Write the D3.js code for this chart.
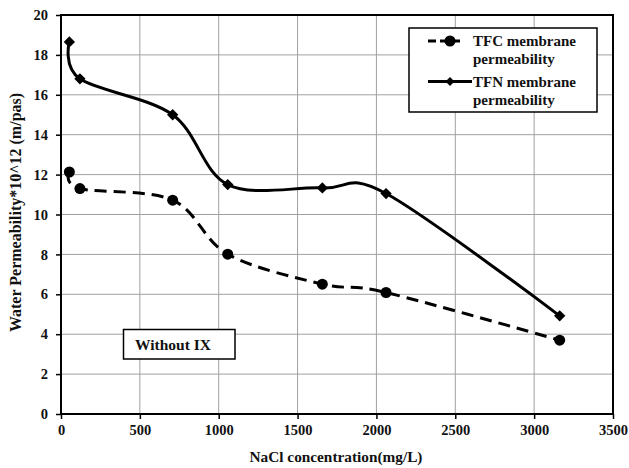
<!DOCTYPE html>
<meta charset="utf-8">
<head>
<style>
body { margin: 0; background: #fff; }
svg text { font-family: "Liberation Serif", "Times New Roman", Times, "DejaVu Serif", serif !important; font-weight: bold; fill: #111; }
.grid line { stroke: #a0a0a0; stroke-width: 1px; }
</style>
<script src="https://d3js.org/d3.v7.min.js"></script>
</head>
<body>
<svg width="629" height="468"></svg>
<script>

// NaCl concentration (mg/L)
var conc = [53, 120, 708, 1057, 1657, 2061, 3162];
var tfc = [12.13, 11.3, 10.72, 8.01, 6.51, 6.09, 3.7];
var tfn = [18.65, 16.8, 15.0, 11.5, 11.33, 11.05, 4.92];
var xTicks = [0, 500, 1000, 1500, 2000, 2500, 3000, 3500];
var yTicks = [0, 2, 4, 6, 8, 10, 12, 14, 16, 18, 20];

var svg = d3.select("svg");
var margin = {left: 61, right: 16, top: 15, bottom: 54};
var width = 629, height = 468;

var x = d3.scaleLinear().domain([0, 3500]).range([margin.left, width - margin.right]);
var y = d3.scaleLinear().domain([0, 20]).range([height - margin.bottom, margin.top]);

// grid
var grid = svg.append("g").attr("class", "grid");
grid.selectAll(".vx").data(xTicks).enter().append("line")
    .attr("x1", d => x(d)).attr("x2", d => x(d))
    .attr("y1", y(0)).attr("y2", y(20));
grid.selectAll(".hy").data(yTicks).enter().append("line")
    .attr("x1", x(0)).attr("x2", x(3500))
    .attr("y1", d => y(d)).attr("y2", d => y(d));

// axes
var xAxis = svg.append("g")
    .attr("transform", "translate(0," + y(0) + ")")
    .call(d3.axisBottom(x).tickValues(xTicks).tickFormat(d3.format("d")).tickSize(5).tickPadding(6));
var yAxis = svg.append("g")
    .attr("transform", "translate(" + x(0) + ",0)")
    .call(d3.axisLeft(y).tickValues(yTicks).tickSize(5).tickPadding(8));
[xAxis, yAxis].forEach(function(a) {
  a.attr("font-family", null);
  a.select(".domain").remove();
  a.selectAll("line").attr("stroke", "#000").attr("stroke-width", 1.5);
  a.selectAll("text").attr("font-size", 14.5).attr("fill", "#111");
});

// frame
svg.append("rect")
    .attr("x", x(0)).attr("y", y(20))
    .attr("width", x(3500) - x(0)).attr("height", y(0) - y(20))
    .attr("fill", "none").attr("stroke", "#000").attr("stroke-width", 2);

var line = d3.line().curve(d3.curveCardinal.tension(0));

function pts(vals) { return conc.map((c, i) => [x(c), y(vals[i])]); }

svg.append("path")
    .attr("d", line(pts(tfc)))
    .attr("fill", "none").attr("stroke", "#000").attr("stroke-width", 3)
    .attr("stroke-dasharray", "12,7");

svg.append("path")
    .attr("d", line(pts(tfn)))
    .attr("fill", "none").attr("stroke", "#000").attr("stroke-width", 3);

svg.selectAll(".dot").data(pts(tfc)).enter().append("circle")
    .attr("cx", d => d[0]).attr("cy", d => d[1]).attr("r", 5.5).attr("fill", "#000");

// square turned 45deg gives the Excel-style diamond
var diamond = d3.symbol().type(d3.symbolSquare).size(64);
svg.selectAll(".dia").data(pts(tfn)).enter().append("path")
    .attr("d", diamond)
    .attr("transform", d => "translate(" + d[0] + "," + d[1] + ") rotate(45)")
    .attr("fill", "#000");

// legend
var lg = svg.append("g");
lg.append("rect").attr("x", 409).attr("y", 28).attr("width", 188).attr("height", 84)
    .attr("fill", "#fff").attr("stroke", "#000").attr("stroke-width", 1.5);
lg.append("line").attr("x1", 428).attr("x2", 464).attr("y1", 41).attr("y2", 41)
    .attr("stroke", "#000").attr("stroke-width", 3).attr("stroke-dasharray", "8,4");
lg.append("circle").attr("cx", 450).attr("cy", 41).attr("r", 5.5).attr("fill", "#000");
lg.append("line").attr("x1", 428).attr("x2", 472).attr("y1", 81.5).attr("y2", 81.5)
    .attr("stroke", "#000").attr("stroke-width", 3);
lg.append("path").attr("d", d3.symbol().type(d3.symbolSquare).size(40))
    .attr("transform", "translate(450,81.5) rotate(45)").attr("fill", "#000");
var legText = [["TFC membrane", 46], ["permeability", 64], ["TFN membrane", 87], ["permeability", 105]];
lg.selectAll("text").data(legText).enter().append("text")
    .attr("x", 473).attr("y", d => d[1]).attr("font-size", 15).text(d => d[0]);

// annotation
svg.append("rect").attr("x", 123.5).attr("y", 329.5).attr("width", 111.5).attr("height", 29.5)
    .attr("fill", "#fff").attr("stroke", "#000").attr("stroke-width", 1.5);
svg.append("text").attr("x", 135).attr("y", 349.5).attr("font-size", 15.5).text("Without IX");

// axis titles
svg.append("text").attr("x", 336).attr("y", 462).attr("text-anchor", "middle")
    .attr("font-size", 15.3).text("NaCl concentration(mg/L)");
svg.append("text").attr("transform", "translate(21," + 212.5 + ") rotate(-90)")
    .attr("text-anchor", "middle").attr("font-size", 16)
    .text("Water Permeability*10^12 (m/pas)");

</script>
</body>
